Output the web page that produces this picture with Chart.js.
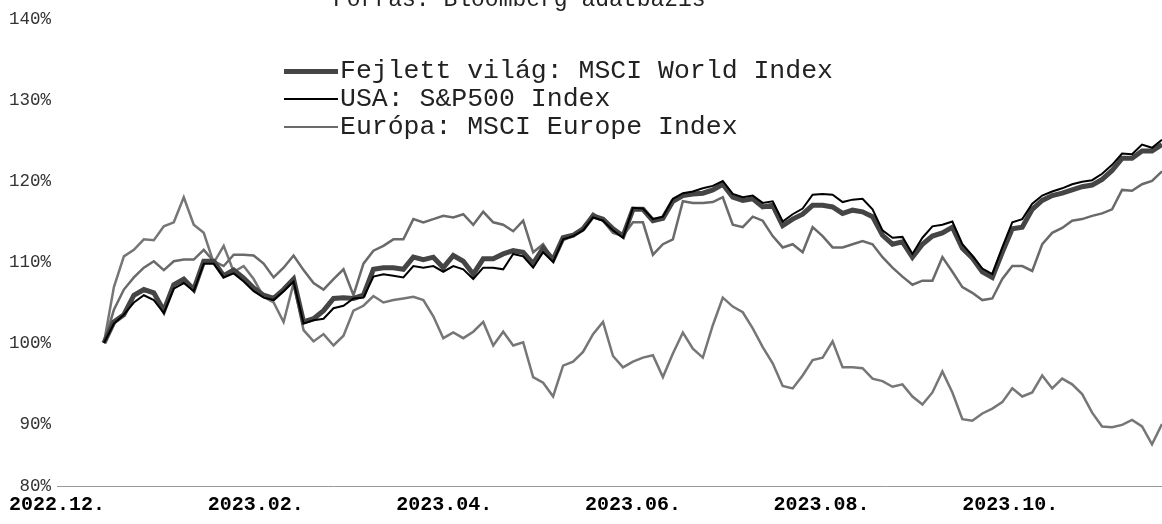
<!DOCTYPE html>
<html>
<head>
<meta charset="utf-8">
<script src="https://cdn.jsdelivr.net/npm/chart.js@4.4.0/dist/chart.umd.min.js"></script>
<style>
  body { margin: 0; background: #fff; }
  #wrap { position: relative; width: 1162px; height: 524px; overflow: hidden; }
  #title {
    position: absolute; top: -11px; left: 333px;
    font: 23px 'Courier New', 'Liberation Mono', monospace;
    line-height: 23px; color: #222; white-space: pre;
  }
  #legend { position: absolute; left: 284px; top: 57px; }
  #legend .row { height: 28px; display: flex; align-items: center; }
  #legend .swatch { width: 54px; margin-right: 2px; }
  #legend .txt { font: 26.5px 'Courier New', 'Liberation Mono', monospace; color: #222; white-space: pre; }
</style>
</head>
<body>
<div id="wrap">
  <canvas id="line-chart" width="1162" height="524"></canvas>
  <div id="title">Forrás: Bloomberg adatbázis</div>
  <div id="legend"></div>
</div>
<script>
// x tick labels and where they sit (sample index)
const tickLabels = ["2022.12.", "2023.02.", "2023.04.", "2023.06.", "2023.08.", "2023.10."];
const tickPos = [-4.7, 15.2, 34.1, 53.0, 71.9, 90.8];

// y tick labels (the bottom one sits on the axis line as in the picture)
const yTickValues = [82.35, 90, 100, 110, 120, 130, 140];
const yTickLabels = ["80%", "90%", "100%", "110%", "120%", "130%", "140%"];

// values in % (one sample ~ every 3.5 days)
const world = [100, 102.6, 103.5, 105.9, 106.6, 106.2, 104.0, 107.2, 107.9, 106.6,
  110.1, 110.1, 108.3, 109.0, 108.0, 106.8, 105.9, 105.5, 106.6, 107.9,
  102.6, 103.0, 104.0, 105.5, 105.6, 105.5, 105.9, 109.1, 109.3, 109.3,
  109.1, 110.6, 110.3, 110.6, 109.3, 110.8, 110.1, 108.5, 110.4, 110.4,
  111.0, 111.4, 111.2, 109.8, 111.7, 110.3, 113.0, 113.3, 114.1, 115.7,
  115.3, 114.1, 113.2, 116.5, 116.5, 115.1, 115.4, 117.5, 118.2, 118.4,
  118.5, 118.9, 119.6, 118.0, 117.6, 117.8, 116.8, 117.0, 114.5, 115.3,
  115.9, 117.0, 117.0, 116.8, 116.0, 116.4, 116.2, 115.6, 113.3, 112.2,
  112.5, 110.6, 112.2, 113.2, 113.6, 114.3, 111.7, 110.5, 108.8, 108.1,
  111.2, 114.1, 114.3, 116.5, 117.6, 118.2, 118.5, 118.9, 119.3, 119.5,
  120.2, 121.3, 122.8, 122.8, 123.7, 123.7, 124.5];

const usa = [100, 102.4, 103.5, 105.0, 105.9, 105.3, 103.7, 106.7, 107.4, 106.4,
  109.8, 109.8, 108.1, 108.6, 107.6, 106.4, 105.6, 105.3, 106.4, 107.6,
  102.4, 102.8, 103.0, 104.3, 104.6, 105.5, 105.6, 108.2, 108.5, 108.3,
  108.1, 109.5, 109.3, 109.5, 108.8, 109.5, 109.1, 107.9, 109.3, 109.3,
  109.1, 111.0, 110.7, 109.3, 111.2, 110.0, 112.8, 113.2, 113.9, 115.5,
  115.1, 113.9, 113.0, 116.7, 116.6, 115.3, 115.6, 117.8, 118.5, 118.7,
  119.1, 119.4, 120.0, 118.4, 118.0, 118.2, 117.3, 117.5, 115.0, 115.9,
  116.6, 118.3, 118.4, 118.3, 117.4, 117.7, 117.8, 116.5, 113.9, 113.0,
  113.1, 111.0, 113.0, 114.4, 114.6, 115.0, 112.2, 110.8, 109.2, 108.5,
  111.8, 114.9, 115.3, 117.2, 118.2, 118.7, 119.1, 119.6, 119.9, 120.1,
  120.9, 122.0, 123.4, 123.3, 124.5, 124.1, 125.1];

const europe = [100, 104.1, 106.6, 108.1, 109.3, 110.1, 109.0, 110.1, 110.3, 110.3,
  111.5, 110.1, 109.5, 110.9, 110.9, 110.8, 109.8, 108.1, 109.3, 110.8,
  109.0, 107.4, 106.6, 107.9, 109.1, 105.9, 109.8, 111.4, 112.0, 112.8,
  112.8, 115.3, 114.9, 115.3, 115.7, 115.5, 115.9, 114.6, 116.2, 114.9,
  114.6, 113.8, 115.1, 111.2, 112.2, 110.3, 112.7, 113.2, 114.1, 116.0,
  115.1, 113.6, 113.2, 114.9, 114.9, 110.9, 112.2, 112.8, 117.5, 117.3,
  117.3, 117.4, 118.0, 114.6, 114.3, 115.6, 115.1, 113.2, 111.8, 112.2,
  111.2, 114.3, 113.2, 111.8, 111.8, 112.2, 112.6, 112.2, 110.6, 109.3,
  108.2, 107.2, 107.7, 107.7, 110.6, 108.8, 106.9, 106.2, 105.3, 105.5,
  107.9, 109.5, 109.5, 108.9, 112.2, 113.6, 114.2, 115.1, 115.3, 115.7,
  116.0, 116.5, 118.9, 118.8, 119.6, 120.0, 121.2];

const china = [100, 106.9, 110.7, 111.5, 112.8, 112.7, 114.4, 114.9, 118.0, 114.6,
  113.6, 109.9, 112.0, 108.8, 109.5, 107.9, 105.7, 105.0, 102.6, 107.4,
  101.6, 100.2, 101.1, 99.7, 100.9, 104.0, 104.6, 105.8, 105.0, 105.3,
  105.5, 105.7, 105.3, 103.3, 100.6, 101.3, 100.6, 101.4, 102.6, 99.7,
  101.4, 99.7, 100.1, 95.8, 95.1, 93.4, 97.2, 97.7, 98.9, 101.1,
  102.6, 98.4, 97.0, 97.7, 98.2, 98.5, 95.8, 98.7, 101.3, 99.3,
  98.2, 102.2, 105.6, 104.5, 103.8, 101.8, 99.5, 97.5, 94.7, 94.4,
  96.0, 97.9, 98.2, 100.2, 97.0, 97.0, 96.9, 95.6, 95.3, 94.6,
  94.9, 93.4, 92.4, 93.9, 96.5, 93.9, 90.6, 90.4, 91.3, 91.9,
  92.7, 94.4, 93.4, 93.9, 96.0, 94.4, 95.6, 94.9, 93.7, 91.4,
  89.7, 89.6, 89.9, 90.5, 89.7, 87.5, 90.0];

const toPoints = (arr) => arr.map((v, i) => ({ x: i, y: v }));
const mono = "'Courier New', 'Liberation Mono', monospace";

var ctx = document.getElementById("line-chart");
var chart = new Chart(ctx, {
  type: "line",
  data: {
    datasets: [
      {
        label: "Fejlett világ: MSCI World Index",
        data: toPoints(world),
        borderColor: "#454545",
        borderWidth: 5,
        order: 2,
      },
      {
        label: "USA: S&P500 Index",
        data: toPoints(usa),
        borderColor: "#000",
        borderWidth: 2,
        order: 1,
      },
      {
        label: "Európa: MSCI Europe Index",
        data: toPoints(europe),
        borderColor: "#6a6a6a",
        borderWidth: 2.5,
        order: 3,
      },
      {
        label: "Kína",
        data: toPoints(china),
        borderColor: "#767676",
        borderWidth: 2.5,
        order: 4,
        inLegend: false,
      },
    ],
  },
  options: {
    responsive: false,
    animation: false,
    layout: { padding: { top: 19, left: 0, right: 0, bottom: 0 } },
    elements: { point: { radius: 0 }, line: { tension: 0 } },
    plugins: { legend: { display: false }, tooltip: { enabled: false } },
    scales: {
      x: {
        type: "linear",
        min: -4.7,
        max: 106,
        afterBuildTicks: (axis) => {
          axis.ticks = tickPos.map((v) => ({ value: v }));
        },
        ticks: {
          autoSkip: false,
          maxRotation: 0,
          padding: 9,
          color: "#000",
          font: { family: mono, size: 20, weight: "bold", lineHeight: 1 },
          callback: (v, i) => tickLabels[i],
        },
        grid: { display: false, drawTicks: false },
        border: { display: true, color: "#999", width: 1, dash: [2, 2] },
      },
      y: {
        min: yTickValues[0],
        max: yTickValues[yTickValues.length - 1],
        afterBuildTicks: (axis) => {
          axis.ticks = yTickValues.map((v) => ({ value: v }));
        },
        ticks: {
          autoSkip: false,
          padding: 6,
          color: "#333",
          font: { family: mono, size: 17.5 },
          callback: (v, i) => yTickLabels[i],
        },
        grid: { display: false, drawTicks: false },
        border: { display: false },
      },
    },
  },
});

// legend drawn inside the plot, only the first three series
const legend = document.getElementById("legend");
chart.data.datasets.filter((d) => d.inLegend !== false).forEach((d) => {
  const row = document.createElement("div");
  row.className = "row";
  const sw = document.createElement("span");
  sw.className = "swatch";
  sw.style.height = d.borderWidth + "px";
  sw.style.background = d.borderColor;
  const txt = document.createElement("span");
  txt.className = "txt";
  txt.textContent = d.label;
  row.appendChild(sw);
  row.appendChild(txt);
  legend.appendChild(row);
});
</script>
</body>
</html>
